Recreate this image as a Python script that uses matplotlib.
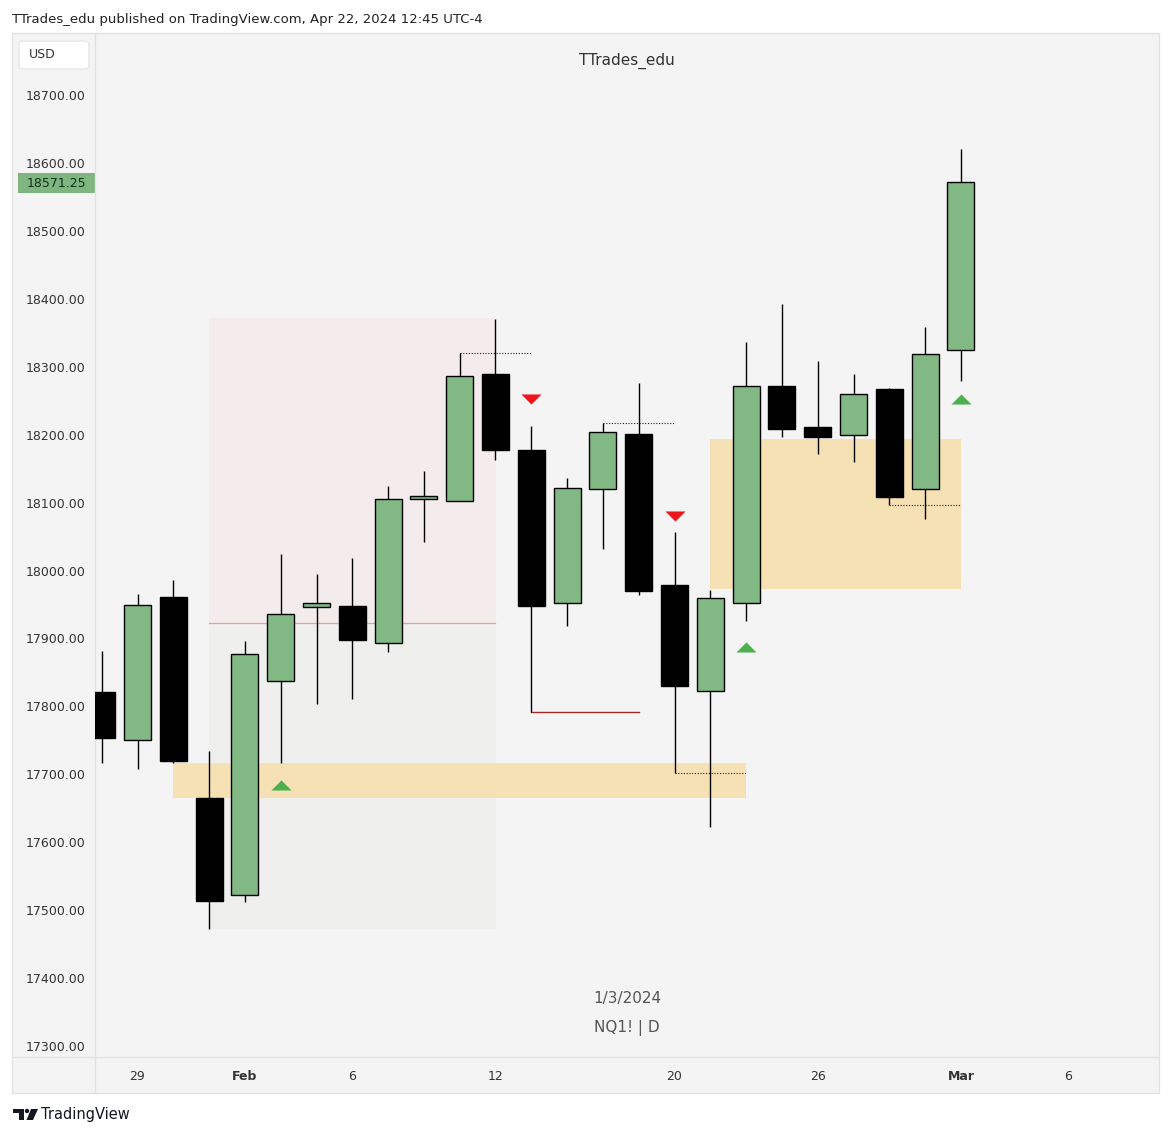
import numpy as np
import matplotlib as mpl
import matplotlib.pyplot as plt
from matplotlib.patches import Rectangle, FancyBboxPatch, Polygon, Circle
from matplotlib.path import Path

# daily NQ1! bars
dates = ["2024-01-26", "2024-01-29", "2024-01-30", "2024-01-31", "2024-02-01",
         "2024-02-02", "2024-02-05", "2024-02-06", "2024-02-07", "2024-02-08",
         "2024-02-09", "2024-02-12", "2024-02-13", "2024-02-14", "2024-02-15",
         "2024-02-16", "2024-02-20", "2024-02-21", "2024-02-22", "2024-02-23",
         "2024-02-26", "2024-02-27", "2024-02-28", "2024-02-29", "2024-03-01"]
future_dates = ["2024-03-04", "2024-03-05", "2024-03-06"]

opens = [17821, 17751, 17961, 17665, 17523, 17837, 17946, 17948, 17894, 18105,
         18103, 18289, 18177, 17952, 18120, 18201, 17978, 17822, 17952, 18272,
         18211, 18200, 18267, 18120, 18324]
highs = [17881, 17965, 17986, 17734, 17896, 18024, 17995, 18018, 18124, 18146,
         18320, 18370, 18213, 18136, 18217, 18276, 18057, 17972, 18336, 18393,
         18308, 18289, 18269, 18358, 18621]
lows = [17716, 17708, 17716, 17472, 17512, 17716, 17804, 17811, 17880, 18042,
        18103, 18162, 17791, 17919, 18031, 17964, 17702, 17623, 17926, 18196,
        18172, 18159, 18096, 18076, 18279]
closes = [17754, 17949, 17719, 17514, 17877, 17936, 17952, 17898, 18105, 18109,
          18287, 18177, 17948, 18122, 18204, 17970, 17830, 17959, 18272, 18209,
          18197, 18260, 18108, 18319, 18571.25]

# dealing range (Jan 31 low -> Feb 12 high)
range_start, range_end = "2024-01-31", "2024-02-12"
range_low, range_high = 17472, 18372

# gap zones: start, end, bottom, top
zones = [("2024-01-30", "2024-02-22", 17665, 17716),
         ("2024-02-21", "2024-03-01", 17973, 18194)]

# dotted liquidity lines: start, end, price
dotted = [("2024-02-09", "2024-02-13", 18320),
          ("2024-02-15", "2024-02-20", 18217),
          ("2024-02-20", "2024-02-22", 17702),
          ("2024-02-28", "2024-03-01", 18096)]
red_line = ("2024-02-13", "2024-02-16", 17791)

up_marks = [("2024-02-02", 17684), ("2024-02-22", 17887), ("2024-03-01", 18253)]
down_marks = [("2024-02-13", 18253), ("2024-02-20", 18080)]

price_ticks = [17300, 17400, 17500, 17600, 17700, 17800, 17900, 18000,
               18100, 18200, 18300, 18400, 18500, 18600, 18700]
date_ticks = ["2024-01-29", "2024-02-01", "2024-02-06", "2024-02-12",
              "2024-02-20", "2024-02-26", "2024-03-01", "2024-03-06"]
date_labels = ["29", "Feb", "6", "12", "20", "26", "Mar", "6"]
bold_labels = {"Feb", "Mar"}
last_price = closes[-1]

GREEN = "#82b884"
W, H = 1171, 1137

all_dates = dates + future_dates
xi = {d: i for i, d in enumerate(all_dates)}

fig = plt.figure(figsize=(W / 100, H / 100), dpi=100, facecolor="white")

# background / frame in pixel coordinates
bg = fig.add_axes([0, 0, 1, 1], zorder=0)
bg.set_xlim(0, W)
bg.set_ylim(H, 0)
bg.axis("off")
bg.add_patch(Rectangle((12, 33), 1147, 1060, fc="#f4f4f4", ec="#e2e2e2", lw=1))
bg.plot([95, 95], [33, 1093], color="#e2e2e2", lw=1)
bg.plot([12, 1159], [1057, 1057], color="#e2e2e2", lw=1)
bg.text(12, 19, "TTrades_edu published on TradingView.com, Apr 22, 2024 12:45 UTC-4",
        fontsize=9.5, color="#222222", va="center", ha="left")
bg.add_patch(FancyBboxPatch((19, 41), 70, 28, boxstyle="round,pad=0,rounding_size=4",
                            fc="white", ec="#e6e6e6", lw=1))
bg.text(42, 55, "USD", fontsize=9, color="#333333", ha="center", va="center")
bg.add_patch(Rectangle((18, 173), 77, 20, fc="#7fb680", ec="none"))
bg.text(56, 183.5, f"{last_price:.2f}", fontsize=9, color="#10301a", ha="center", va="center")

# TradingView logo
bg.add_patch(Rectangle((13, 1109), 11, 4, fc="#131722", ec="none"))
bg.add_patch(Rectangle((18.5, 1109), 5.5, 11, fc="#131722", ec="none"))
bg.add_patch(Circle((27, 1111), 2.2, fc="#131722", ec="none"))
bg.add_patch(Polygon([(31, 1109), (38, 1109), (33, 1120), (26.5, 1120)], fc="#131722", ec="none"))
bg.text(41, 1115, "TradingView", fontsize=10.5, color="#131722", ha="left", va="center")

# main price pane
ax = fig.add_axes([95 / W, (H - 1057) / H, 1064 / W, 1024 / H], zorder=1)
ax.set_facecolor("none")
for s in ax.spines.values():
    s.set_visible(False)

step, x_first = 35.8, 101.7
ax.set_xlim((95 - x_first) / step, (1159 - x_first) / step)
px = 1400 / 951
ax.set_ylim(18700 - (1057 - 95) * px, 18700 + (95 - 33) * px)

# dealing range: premium / discount halves
mid = (range_low + range_high) / 2
x0, x1 = xi[range_start], xi[range_end]
ax.add_patch(Rectangle((x0, mid), x1 - x0, range_high - mid, fc="#f4ecec", ec="none", zorder=1))
ax.add_patch(Rectangle((x0, range_low), x1 - x0, mid - range_low, fc="#eff0ee", ec="none", zorder=1))
ax.plot([x0, x1], [mid, mid], color="#eb9d94", lw=0.9, zorder=2)

for start, end, lo, hi in zones:
    a, b = xi[start], xi[end]
    ax.add_patch(Rectangle((a, lo), b - a, hi - lo, fc="#f5e1b4", ec="none", zorder=2))

for start, end, p in dotted:
    ax.plot([xi[start], xi[end]], [p, p], color="#222222", lw=0.8, ls=(0, (1, 1.5)), zorder=3)
ax.plot([xi[red_line[0]], xi[red_line[1]]], [red_line[2]] * 2, color="#9e2a2a", lw=1, zorder=3)

# candles
x = np.arange(len(dates))
o, h, l, c = map(np.array, (opens, highs, lows, closes))
up = c >= o
ax.vlines(x, l, h, color="black", lw=1, zorder=4)
ax.bar(x, np.abs(c - o), bottom=np.minimum(o, c), width=0.755,
       color=np.where(up, GREEN, "black"), edgecolor="black", lw=1, zorder=5)

# signal triangles
tri_up = Path([(-1, -0.5), (1, -0.5), (0, 0.5), (-1, -0.5)],
              [Path.MOVETO, Path.LINETO, Path.LINETO, Path.CLOSEPOLY])
tri_dn = Path([(-1, 0.5), (1, 0.5), (0, -0.5), (-1, 0.5)],
              [Path.MOVETO, Path.LINETO, Path.LINETO, Path.CLOSEPOLY])
ax.scatter([xi[d] for d, _ in up_marks], [p for _, p in up_marks], marker=tri_up,
           s=14.5 ** 2, color="#4caf50", lw=0, zorder=6)
ax.scatter([xi[d] for d, _ in down_marks], [p for _, p in down_marks], marker=tri_dn,
           s=14.5 ** 2, color="#f0141c", lw=0, zorder=6)

# axes ticks
ax.set_yticks(price_ticks)
ax.set_yticklabels([f"{p:.2f}" for p in price_ticks])
ax.set_xticks([xi[d] for d in date_ticks])
ax.set_xticklabels(date_labels)
for t in ax.get_xticklabels():
    if t.get_text() in bold_labels:
        t.set_fontweight("bold")
ax.tick_params(axis="y", length=0, pad=7, labelsize=9, labelcolor="#333333")
ax.tick_params(axis="x", length=0, pad=9.5, labelsize=9, labelcolor="#333333")

# watermark texts
ax.text(0.5, 1 - (61 - 33) / 1024, "TTrades_edu", transform=ax.transAxes,
        ha="center", va="center", fontsize=11, color="#333333")
ax.text(0.5, (1057 - 998) / 1024, "1/3/2024", transform=ax.transAxes,
        ha="center", va="center", fontsize=11, color="#555555")
ax.text(0.5, (1057 - 1028) / 1024, "NQ1! | D", transform=ax.transAxes,
        ha="center", va="center", fontsize=11, color="#555555")

fig.savefig("out.png", dpi=100, facecolor="white")
